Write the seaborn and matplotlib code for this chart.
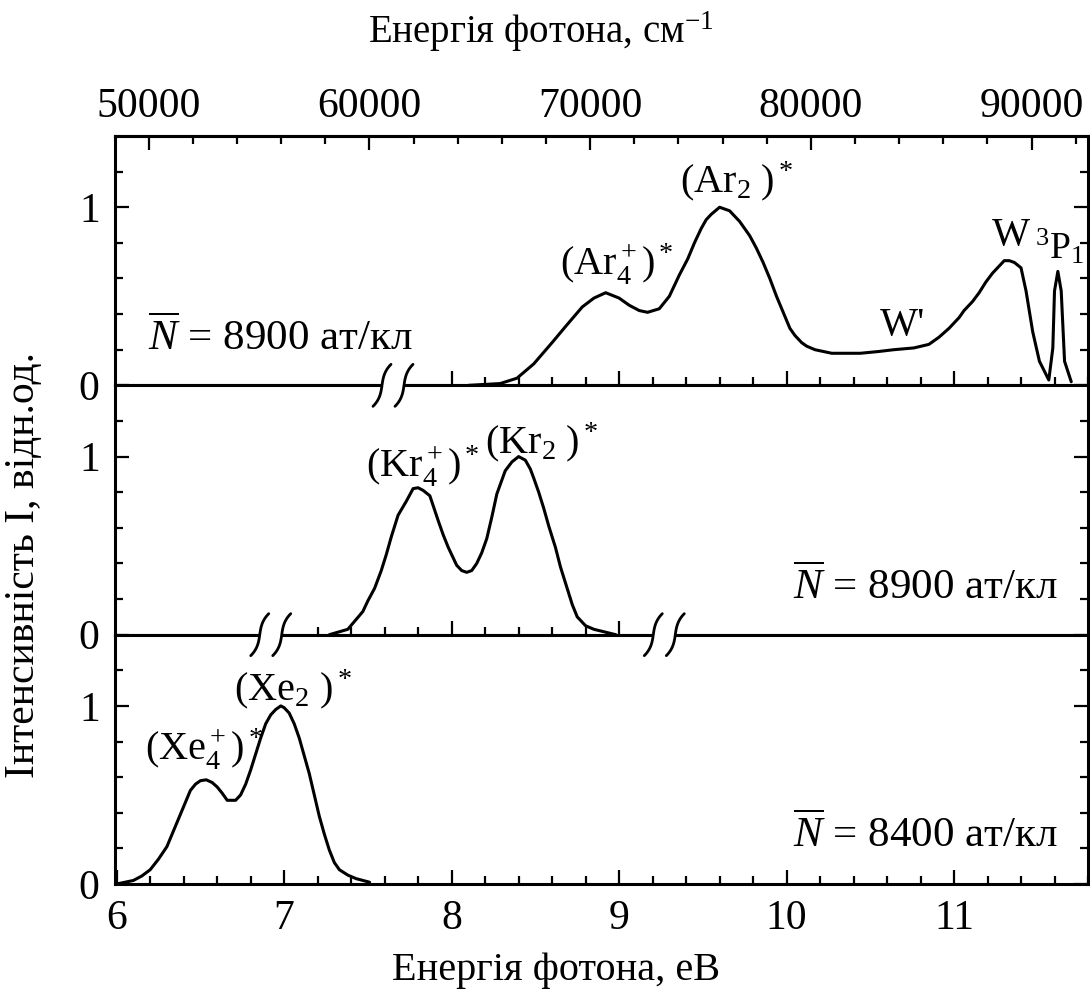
import matplotlib
matplotlib.use("Agg")
import matplotlib.pyplot as plt
from matplotlib.lines import Line2D
from matplotlib.patches import Rectangle
from matplotlib.ticker import MultipleLocator, FixedLocator
import numpy as np
import pandas as pd
import seaborn as sns

# ---- luminescence spectra of rare-gas clusters (photon energy in eV, normalised intensity) ----
ar_energy = [8.10, 8.29, 8.39, 8.49, 8.60, 8.68, 8.78, 8.85, 8.92, 9.00, 9.06, 9.12, 9.17,
             9.24, 9.30, 9.36, 9.41, 9.45, 9.49, 9.52, 9.55, 9.60, 9.66, 9.72, 9.78, 9.82,
             9.86, 9.90, 9.94, 9.98, 10.02, 10.05, 10.09, 10.12, 10.17, 10.27, 10.35, 10.44,
             10.55, 10.64, 10.76, 10.85, 10.91, 10.97, 11.03, 11.06, 11.11, 11.15, 11.19,
             11.23, 11.27, 11.30, 11.33, 11.36, 11.40, 11.43, 11.47, 11.51, 11.566, 11.59,
             11.60, 11.62, 11.64, 11.66, 11.70]
ar_intensity = [0.00, 0.01, 0.04, 0.12, 0.24, 0.33, 0.44, 0.49, 0.52, 0.49, 0.45, 0.42, 0.41,
                0.43, 0.50, 0.62, 0.71, 0.80, 0.88, 0.93, 0.96, 1.00, 0.98, 0.92, 0.84, 0.77,
                0.69, 0.60, 0.50, 0.41, 0.32, 0.28, 0.24, 0.22, 0.20, 0.18, 0.18, 0.18,
                0.19, 0.20, 0.21, 0.23, 0.27, 0.32, 0.38, 0.42, 0.47, 0.52, 0.58,
                0.63, 0.67, 0.70, 0.70, 0.69, 0.66, 0.53, 0.30, 0.135, 0.03, 0.21,
                0.53, 0.64, 0.53, 0.135, 0.02]

kr_energy = [7.27, 7.38, 7.47, 7.50, 7.54, 7.58, 7.61, 7.64, 7.68, 7.73, 7.77, 7.80, 7.83,
             7.87, 7.92, 7.95, 7.98, 8.03, 8.06, 8.09, 8.12, 8.15, 8.18, 8.21, 8.24, 8.27,
             8.32, 8.36, 8.40, 8.44, 8.47, 8.49, 8.52, 8.55, 8.58, 8.62, 8.65, 8.69, 8.72,
             8.75, 8.80, 8.85, 8.98]
kr_intensity = [0.00, 0.03, 0.13, 0.19, 0.26, 0.36, 0.45, 0.55, 0.67, 0.75, 0.82, 0.825, 0.81,
                0.78, 0.64, 0.56, 0.49, 0.39, 0.36, 0.35, 0.36, 0.40, 0.46, 0.54, 0.66, 0.79,
                0.92, 0.97, 1.00, 0.98, 0.93, 0.88, 0.80, 0.71, 0.61, 0.49, 0.38, 0.26, 0.17,
                0.10, 0.05, 0.03, 0.00]

xe_energy = [6.00, 6.10, 6.15, 6.20, 6.25, 6.30, 6.34, 6.38, 6.44, 6.47, 6.50, 6.535, 6.57,
             6.60, 6.63, 6.66, 6.71, 6.74, 6.77, 6.80, 6.83, 6.86, 6.89, 6.92, 6.95, 6.98,
             7.00, 7.03, 7.06, 7.09, 7.12, 7.15, 7.18, 7.21, 7.24, 7.27, 7.30, 7.33, 7.38,
             7.43, 7.51]
xe_intensity = [0.00, 0.02, 0.045, 0.08, 0.14, 0.21, 0.30, 0.39, 0.525, 0.56, 0.58, 0.585, 0.57,
                0.545, 0.51, 0.47, 0.47, 0.50, 0.56, 0.64, 0.73, 0.82, 0.90, 0.95, 0.98, 1.00,
                0.99, 0.96, 0.90, 0.82, 0.72, 0.62, 0.50, 0.38, 0.28, 0.19, 0.12, 0.08, 0.05,
                0.03, 0.01]

# cluster size labels
size_labels = [r"$\overline{N}$ = 8900 ат/кл", r"$\overline{N}$ = 8900 ат/кл",
               r"$\overline{N}$ = 8400 ат/кл"]

# wavenumber scale of the top axis
top_major_ticks = [50000, 60000, 70000, 80000, 90000]
top_tick_labels = ["50000", "60000", "70000", "80000", "90000"]
bottom_major_ticks = [6, 7, 8, 9, 10, 11]
bottom_tick_labels = ["6", "7", "8", "9", "10", "11"]

# energy axis range covered by ticks on each panel (ticks skip the broken part)
panel_tick_ranges = [(8.0, 11.8), (7.2, 9.0), (6.0, 11.8)]
# axis-break marks on panel base lines
panel_breaks = [[7.65], [6.92, 9.27], []]

E_MIN, E_MAX = 5.99, 11.80
I_MIN, I_MAX = 0.0, 1.4

sns.set_theme(style="ticks")
plt.rcParams.update({
    "font.family": ["Liberation Serif", "DejaVu Serif"],
    "mathtext.fontset": "custom",
    "mathtext.rm": "Liberation Serif",
    "mathtext.it": "Liberation Serif:italic",
    "mathtext.bf": "Liberation Serif:bold",
    "axes.edgecolor": "black",
    "axes.linewidth": 2.2,
    "text.color": "black",
    "xtick.color": "black",
    "ytick.color": "black",
    "axes.labelcolor": "black",
    "figure.facecolor": "white",
    "axes.facecolor": "white",
})

fig = plt.figure(figsize=(10.9, 9.93), dpi=100)
gs = fig.add_gridspec(3, 1, left=115 / 1090, right=1088 / 1090,
                      top=1 - 136 / 993, bottom=1 - 884 / 993, hspace=0)
axes = [fig.add_subplot(gs[i]) for i in range(3)]

spectra = [
    pd.DataFrame({"E": ar_energy, "I": ar_intensity}),
    pd.DataFrame({"E": kr_energy, "I": kr_intensity}),
    pd.DataFrame({"E": xe_energy, "I": xe_intensity}),
]

TICK_FS = 30
for i, (ax, df) in enumerate(zip(axes, spectra)):
    sns.lineplot(data=df, x="E", y="I", ax=ax, color="black", linewidth=2.2,
                 estimator=None, sort=False)
    ax.set_xlim(E_MIN, E_MAX)
    ax.set_ylim(I_MIN, I_MAX)
    ax.set_xlabel("")
    ax.set_ylabel("")
    for sp in ax.spines.values():
        sp.set_linewidth(2.2)
        sp.set_color("black")

    lo, hi = panel_tick_ranges[i]
    majors = [t for t in bottom_major_ticks if lo - 1e-9 <= t <= hi + 1e-9]
    minors = [round(v, 1) for v in np.arange(lo, hi + 1e-6, 0.2)
              if abs(v - round(v)) > 1e-6]
    ax.xaxis.set_major_locator(FixedLocator(majors))
    ax.xaxis.set_minor_locator(FixedLocator(minors))
    if i == 2:
        ax.set_xticklabels([bottom_tick_labels[bottom_major_ticks.index(t)] for t in majors])
    ax.yaxis.set_major_locator(FixedLocator([0, 1]))
    ax.yaxis.set_minor_locator(FixedLocator([0.2, 0.4, 0.6, 0.8, 1.2]))
    ax.set_yticklabels(["0", "1"])

    ax.tick_params(axis="both", which="both", direction="in", width=1.6)
    ax.tick_params(axis="both", which="major", length=10)
    ax.tick_params(axis="both", which="minor", length=5.5)
    ax.tick_params(axis="y", which="both", left=True, right=True,
                   labelleft=True, labelright=False, labelsize=TICK_FS, pad=11)
    ax.tick_params(axis="x", which="both", top=False, bottom=True,
                   labelbottom=(i == 2), labelsize=TICK_FS, pad=11)

# ---- top wavenumber axis ----
def ev_to_cm(e):
    return 50000.0 + (np.asarray(e) - 6.191) * 7587.0


def cm_to_ev(c):
    return 6.191 + (np.asarray(c) - 50000.0) / 7587.0


sec = axes[0].secondary_xaxis("top", functions=(ev_to_cm, cm_to_ev))
sec.xaxis.set_major_locator(FixedLocator(top_major_ticks))
sec.xaxis.set_minor_locator(MultipleLocator(2000))
sec.set_xticklabels(top_tick_labels)
sec.tick_params(axis="x", which="both", direction="in", width=1.6, labelsize=TICK_FS, pad=7)
sec.tick_params(axis="x", which="major", length=10)
sec.tick_params(axis="x", which="minor", length=5.5)
sec.spines["top"].set_linewidth(2.2)
fig.text(541 / 1090, 1 - 32 / 993, "Енергія фотона, см$^{-1}$", fontsize=28,
         ha="center", va="center")

axes[2].set_xlabel("Енергія фотона, еВ", fontsize=29, va="center")
axes[2].xaxis.set_label_coords(0.453, -0.345)
axes[1].set_ylabel("Інтенсивність I, відн.од.", fontsize=30, va="center")
axes[1].yaxis.set_label_coords(-0.094, 0.28)

# ---- band labels ----
LAB_FS = 29
ax0, ax1, ax2 = axes
ax0.text(6.185, 0.20, size_labels[0], fontsize=31, ha="left", va="baseline")
ax0.text(8.985, 0.62, r"$\mathrm{(Ar_4^+)^*}$", fontsize=LAB_FS, ha="center", va="baseline")
ax0.text(9.70, 1.085, r"$\mathrm{(Ar_2\ )^*}$", fontsize=LAB_FS, ha="center", va="baseline")
ax0.text(10.69, 0.28, "W'", fontsize=LAB_FS, ha="center", va="baseline")
ax0.text(11.34, 0.79, "W", fontsize=LAB_FS, ha="center", va="baseline")
ax0.text(11.485, 0.71, r"$\mathrm{{}^3P_1}$", fontsize=27, ha="left", va="baseline")

ax1.text(7.83, 0.89, r"$\mathrm{(Kr_4^+)^*}$", fontsize=LAB_FS, ha="center", va="baseline")
ax1.text(8.54, 1.02, r"$\mathrm{(Kr_2\ )^*}$", fontsize=LAB_FS, ha="center", va="baseline")
ax1.text(11.62, 0.20, size_labels[1], fontsize=31, ha="right", va="baseline")

ax2.text(7.05, 1.03, r"$\mathrm{(Xe_2\ )^*}$", fontsize=LAB_FS, ha="center", va="baseline")
ax2.text(6.525, 0.70, r"$\mathrm{(Xe_4^+)^*}$", fontsize=LAB_FS, ha="center", va="baseline")
ax2.text(11.62, 0.21, size_labels[2], fontsize=31, ha="right", va="baseline")

# ---- axis-break marks (two S-shaped strokes over the base line) ----
def draw_break(ax, e_c):
    pos = ax.get_position()
    px_x = pos.width * fig.get_figwidth() * fig.dpi / (E_MAX - E_MIN)
    px_y = pos.height * fig.get_figheight() * fig.dpi / (I_MAX - I_MIN)
    half_gap = 11.0
    fig.add_artist(Rectangle((e_c - half_gap / px_x, -3.5 / px_y), 2 * half_gap / px_x,
                             7.0 / px_y, transform=ax.transData, facecolor="white",
                             edgecolor="none", zorder=9, clip_on=False))
    t = np.linspace(-1, 1, 40)
    dx = 6.0 * t ** 3 + 3.0 * t
    dy = 21.0 * t
    for side in (-1, 1):
        xs = e_c + (side * half_gap + dx) / px_x
        ys = dy / px_y
        fig.add_artist(Line2D(xs, ys, transform=ax.transData, color="black",
                              linewidth=2.0, zorder=10, clip_on=False,
                              solid_capstyle="round"))


for ax, brks in zip(axes, panel_breaks):
    for b in brks:
        draw_break(ax, b)

fig.savefig("out.png", dpi=100, facecolor="white")
